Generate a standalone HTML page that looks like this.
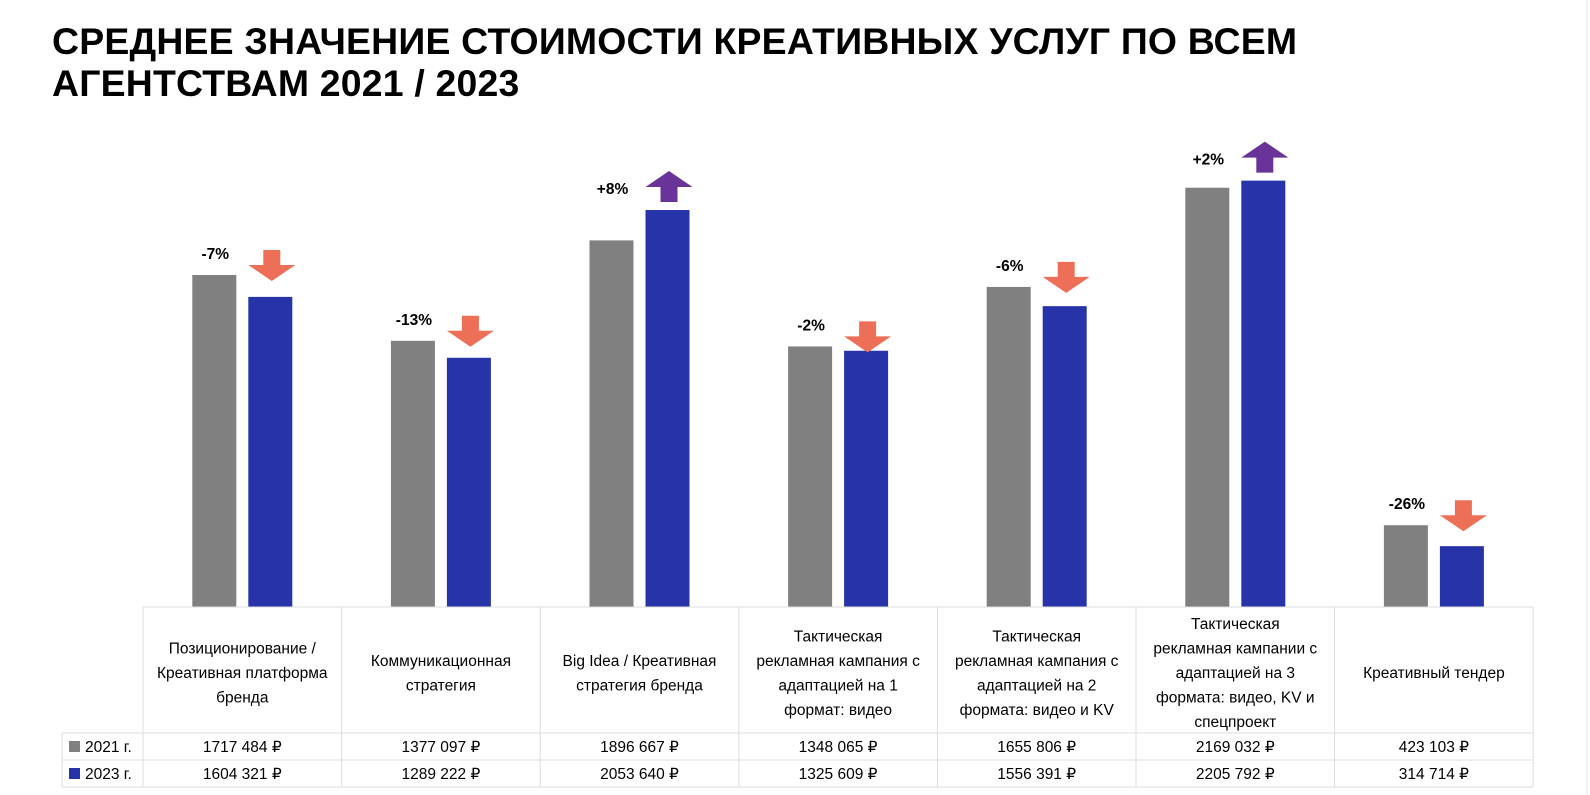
<!DOCTYPE html>
<html><head><meta charset="utf-8"><style>
body{margin:0;width:1590px;height:795px;background:#fff;overflow:hidden;font-family:"Liberation Sans","Noto Sans CJK SC",sans-serif;position:relative}
h1{position:absolute;left:52px;top:20px;margin:0;font-size:37.4px;line-height:42px;font-weight:bold;color:#000;letter-spacing:0.2px}
svg{position:absolute;left:0;top:0}
</style></head><body>
<h1>СРЕДНЕЕ ЗНАЧЕНИЕ СТОИМОСТИ КРЕАТИВНЫХ УСЛУГ ПО ВСЕМ<br>АГЕНТСТВАМ 2021 / 2023</h1>
<svg id="chart" width="1590" height="795"></svg>
<script>
const categories=[["Позиционирование /","Креативная платформа","бренда"],["Коммуникационная","стратегия"],["Big Idea / Креативная","стратегия бренда"],["Тактическая","рекламная кампания с","адаптацией на 1","формат: видео"],["Тактическая","рекламная кампания с","адаптацией на 2","формата: видео и KV"],["Тактическая","рекламная кампании с","адаптацией на 3","формата: видео, KV и","спецпроект"],["Креативный тендер"]];
const values2021=[1717484,1377097,1896667,1348065,1655806,2169032,423103];
const values2023=[1604321,1289222,2053640,1325609,1556391,2205792,314714];
const changeLabels=["-7%","-13%","+8%","-2%","-6%","+2%","-26%"];
const seriesNames=["2021 г.","2023 г."];
const NS="http://www.w3.org/2000/svg";
const svg=document.getElementById('chart');
const x0=143,colW=198.6,base=607,scale=1.933e-4,bw=44;
const y=v=>base-v*scale;
const cx=i=>x0+colW*i+colW/2;
function mk(t,a,p){const e=document.createElementNS(NS,t);for(const k in a)e.setAttribute(k,a[k]);(p||svg).appendChild(e);return e;}
function fmt(v){const s=String(v);return s.slice(0,s.length-3)+' '+s.slice(-3)+' ₽';}
mk('line',{x1:1587,y1:0,x2:1587,y2:795,stroke:'#e4e4e4','stroke-width':1});
values2021.forEach((v,i)=>{
  const g=mk('rect',{x:cx(i)-28-bw/2,y:y(v),width:bw,height:base-y(v),fill:'#808080'});
  
  
  const v2=values2023[i];
  const b=mk('rect',{x:cx(i)+28-bw/2,y:y(v2),width:bw,height:base-y(v2),fill:'#2733a8'});
  
  
  const up=v2>v;
  const top=Math.min(y(v),y(v2));
  const labelY=top-21;
  const ax=cx(i)+28-bw/2;
  let at=up?(y(v2)-8-31):(labelY-4);
  const ab=at+31;
  let pts;
  if(up) pts=[[ax+23.5,at],[ax+47,at+16],[ax+32,at+16],[ax+32,ab],[ax+15,ab],[ax+15,at+16],[ax,at+16]];
  else pts=[[ax+15,at],[ax+32,at],[ax+32,at+15],[ax+47,at+15],[ax+23.5,ab],[ax,at+15],[ax+15,at+15]];
  const ar=mk('polygon',{points:pts.map(p=>p.join(',')).join(' '),fill:up?'#6a3399':'#ee6f57'});
  
  
  const t=mk('text',{x:cx(i)-27,y:labelY+5,'text-anchor':'middle','font-size':15.5,'font-weight':'bold',fill:'#000'});
  t.textContent=changeLabels[i];
  
  
});
const lc='#dcdcdc';
const rows=[607,733,760,787];
rows.forEach(r=>mk('line',{x1:r===607?x0:62,y1:r,x2:x0+colW*7,y2:r,stroke:lc}));
mk('line',{x1:62,y1:733,x2:62,y2:787,stroke:lc});
for(let i=0;i<=7;i++)mk('line',{x1:x0+colW*i,y1:607,x2:x0+colW*i,y2:787,stroke:lc});
categories.forEach((lines,i)=>{
  const t=mk('text',{'text-anchor':'middle','font-size':15.5,fill:'#000'});
  
  
  const lh=24.5, start=673-(lines.length-1)*lh/2+5;
  lines.forEach((l,j)=>{const s=mk('tspan',{x:cx(i),y:start+j*lh},t);s.textContent=l;});
  [values2021,values2023].forEach((arr,k)=>{
    const c=mk('text',{x:cx(i),y:k?779:752,'text-anchor':'middle','font-size':15.5,fill:'#000'});
    c.textContent=fmt(arr[i]);
    
    
  });
});
seriesNames.forEach((n,k)=>{
  const yy=k?779:752;
  const r=mk('rect',{x:69,y:yy-11,width:11,height:11,fill:k?'#2733a8':'#808080'});
  
  
  const t=mk('text',{x:85,y:yy,'font-size':15.5,fill:'#000'});
  t.textContent=n;
  
  
});
</script>
</body></html>
